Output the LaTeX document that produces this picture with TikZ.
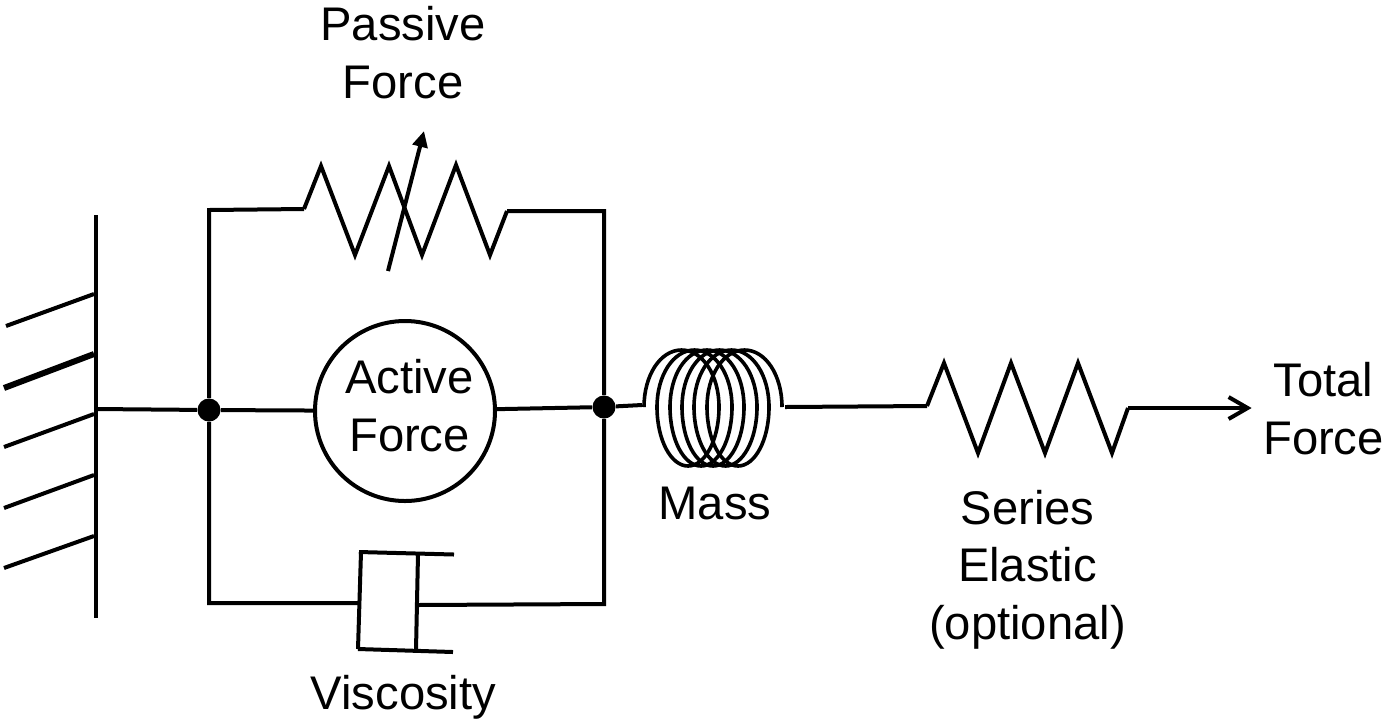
\documentclass[tikz,border=0pt]{standalone}
\usepackage{fontspec}
\setmainfont{Liberation Sans}
\usetikzlibrary{arrows.meta}
\tikzset{
  wire/.style={line width=2pt,line join=miter},
  thinwire/.style={line width=1.8pt},
  label/.style={inner sep=0pt,align=center,font=\fontsize{23.6}{28.8}\selectfont},
  junction/.style={circle,fill=black,inner sep=0pt,minimum size=11.5pt},
  source/.style={circle,draw,line width=2pt,inner sep=0pt,minimum size=90pt}
}
\begin{document}
\begin{tikzpicture}[x=0.5pt,y=-0.5pt]
\useasboundingbox (0,0) rectangle (1385,719);
% coordinates
\coordinate (wt) at (96,215); \coordinate (wb) at (96,618); \coordinate (wm) at (96,409);
\node[junction] (j1) at (209,410) {};
\node[junction] (j2) at (604,407) {};
\node[source] (act) at (405,411) {};
\coordinate (tl) at (209,210); \coordinate (tr) at (604,211);
\coordinate (bl) at (209,603); \coordinate (br) at (604,604);
\coordinate (r0) at (304,209); \coordinate (r1) at (507,211);
\coordinate (s0) at (927,406); \coordinate (s1) at (1128,408);
\coordinate (c0) at (642,405); \coordinate (c1) at (785,407);
\node[inner sep=0pt,minimum size=0pt] (tip) at (1252,408) {};
\coordinate (d0) at (358,603); \coordinate (d1) at (417,605);
\coordinate (a0) at (388,271); \coordinate (a1) at (424,131);
% wall
\draw[wire] (wt) -- (wb);
\foreach \ya/\yb/\xa/\w in {326/294/6/2pt,388/354/4/3pt,447/414/4/2pt,508/475/4/2pt,568/536/4/2pt}
  \draw[line width=\w] (\xa,\ya) -- (94,\yb);
% frame
\draw[wire] (wm) -- (j1) -- (act);
\draw[wire] (act) -- (j2);
\draw[wire] (r0) -- (tl) -- (j1) -- (bl) -- (d0);
\draw[wire] (r1) -- (tr) -- (j2) -- (br) -- (d1);
% passive resistor
\draw[wire] (r0) -- (321,166) -- (355,255) -- (389,166) -- (422,255) -- (456,165) -- (490,255) -- (r1);
\draw[wire,-{Triangle[length=8pt,width=7.5pt]}] (a0) -- (a1);
% dashpot
\draw[wire] (359,552) -- (454,554.5);
\draw[wire] (361,552) -- (358,649);
\draw[wire] (358,649) -- (453,652);
\draw[wire] (418,554) -- (416,650);
% mass
\draw[wire] (j2) -- (c0);
\foreach \l/\r in {644/719,657/732,670/744,682/757,694/769,707/782}{
  \pgfmathsetmacro{\c}{(\l+\r)/2}
  \draw[thinwire] (\l,407) .. controls (\l,375) and ({\c-21},350) .. (\c,350)
     .. controls ({\c+21},350) and (\r,375) .. (\r,407);
}
\foreach \l/\r in {657/719,670/732,682/744,694/757,707/769}{
  \pgfmathsetmacro{\c}{(\l+\r)/2}
  \draw[thinwire] (\l,407) .. controls (\l,440) and ({\c-17},466) .. (\c,466)
     .. controls ({\c+17},466) and (\r,440) .. (\r,407);
}
% series spring
\draw[wire] (c1) -- (s0);
\draw[wire] (s0) -- (944,363) -- (978,453) -- (1011,363) -- (1045,453) -- (1078,363) -- (1112,453) -- (s1);
\draw[wire,-{Straight Barb[length=9.5pt,width=10.5pt,angle'=60,line width=2pt]}] (s1) -- (tip);
% labels
\node[label,anchor=south] (la) at (409.5,452) {Active\\Force};
\node[label,anchor=south] (lp) at (403,99) {Passive\\Force};
\node[label,anchor=base] (lm) at (715,519) {Mass};
\node[label,anchor=south] (ls) at (1027.5,649.5) {Series\\Elastic\\(optional)};
\node[label,anchor=base] (lv) at (403.5,709) {Viscosity};
\node[label,anchor=south] (lt) at (1323.5,455) {Total\\Force};
\end{tikzpicture}
\end{document}
